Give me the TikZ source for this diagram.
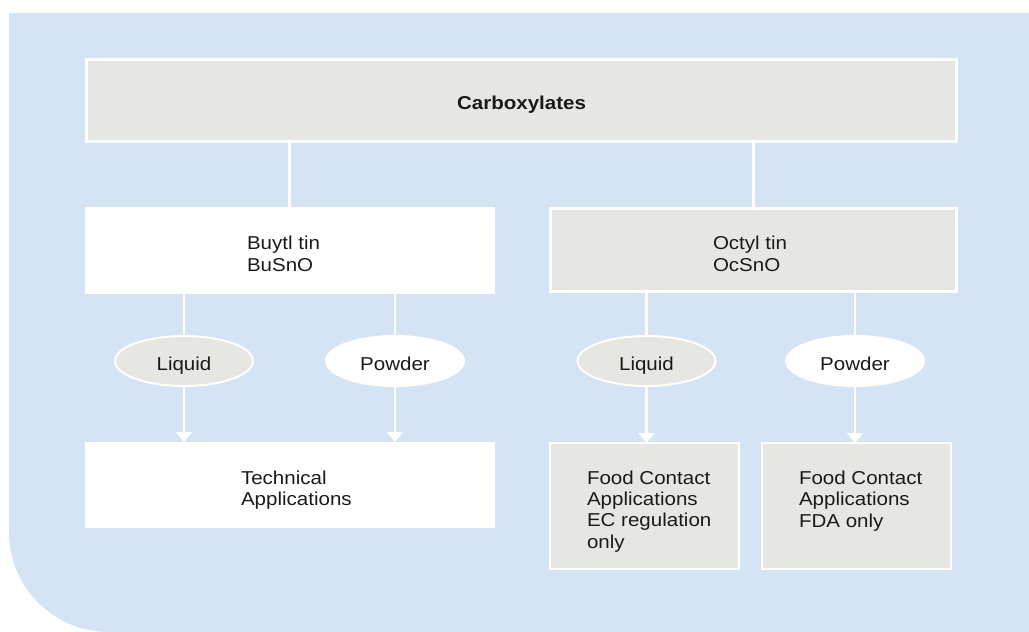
\documentclass[tikz,border=0pt]{standalone}
\usepackage{fontspec}
\setmainfont{Liberation Sans}[FakeStretch=1.1]
\usetikzlibrary{shapes.geometric,arrows.meta}
\definecolor{bgblue}{RGB}{212,228,244}
\definecolor{boxgray}{RGB}{230,231,226}
\definecolor{ink}{RGB}{26,26,26}
\tikzset{
  every node/.style={inner sep=0pt, outer sep=0pt, text=ink, font=\fontsize{14}{16}\selectfont},
  graybox/.style={rectangle, fill=boxgray, draw=white},
  whitebox/.style={rectangle, fill=white, draw=white, line width=0.5pt},
  oval/.style={ellipse, draw=white, line width=1.5pt, minimum width=103.5pt, minimum height=37.5pt, text height=13.5pt, text depth=0pt},
  label/.style={align=left, anchor=base west},
  link/.style={draw=white, line width=2pt},
  arrowlink/.style={link, -{Triangle[width=12pt,length=7.5pt]}}
}
\begin{document}
\begin{tikzpicture}[x=0.75pt,y=-0.75pt]
\useasboundingbox (0,0) rectangle (1029,632);
% background
\fill[bgblue] (9,13) -- (1029,13) -- (1029,632) {[rounded corners=75pt] -- (9,632) -- (9,300)} -- cycle;

% boxes
\node[graybox, line width=2.25pt, minimum width=652.5pt, minimum height=61.5pt] (carb) at (521.5,100.5) {};
\node[anchor=base, font=\fontsize{14}{16}\selectfont\bfseries] (carbt) at (521.5,109) {Carboxylates};

\node[whitebox, minimum width=306.75pt, minimum height=64.5pt] (buytl) at (289.5,250) {};
\node[graybox, line width=2.25pt, minimum width=304.5pt, minimum height=62.25pt] (octyl) at (753.5,250) {};

\node[whitebox, minimum width=306.75pt, minimum height=63.75pt] (tech) at (289.5,484.5) {};
\node[graybox, line width=1.5pt, minimum width=141.75pt, minimum height=94.5pt] (foodl) at (644.5,506) {};
\node[graybox, line width=1.5pt, minimum width=141.75pt, minimum height=94.5pt] (foodr) at (856.5,506) {};

% ellipses
\node[oval, fill=boxgray] (liq1) at (184,361) {Liquid};
\node[oval, fill=white]   (pow1) at (395,361) {Powder};
\node[oval, fill=boxgray] (liq2) at (646.5,361) {Liquid};
\node[oval, fill=white]   (pow2) at (855,361) {Powder};

% box texts (base anchor = baseline of last line)
\node[label] (buytlt) at (247,271) {Buytl tin\\BuSnO};
\node[label] (octylt) at (713,271) {Octyl tin\\OcSnO};
\node[label] (techt) at (241,505.5) {Technical\\Applications};
\node[label] (foodlt) at (587,548) {Food Contact\\Applications\\EC regulation\\only};
\node[label] (foodrt) at (799,527) {Food Contact\\Applications\\FDA only};

% connectors
\draw[link] (buytl.north) -- (buytl.north |- carb.south);
\draw[link] (octyl.north) -- (octyl.north |- carb.south);
\draw[link] (liq1.north) -- (liq1.north |- buytl.south);
\draw[link] (pow1.north) -- (pow1.north |- buytl.south);
\draw[link] (liq2.north) -- (liq2.north |- octyl.south);
\draw[link] (pow2.north) -- (pow2.north |- octyl.south);
\draw[arrowlink] (liq1.south) -- (liq1.south |- tech.north);
\draw[arrowlink] (pow1.south) -- (pow1.south |- tech.north);
\draw[arrowlink] (liq2.south) -- (liq2.south |- foodl.north);
\draw[arrowlink] (pow2.south) -- (pow2.south |- foodr.north);
\end{tikzpicture}
\end{document}
